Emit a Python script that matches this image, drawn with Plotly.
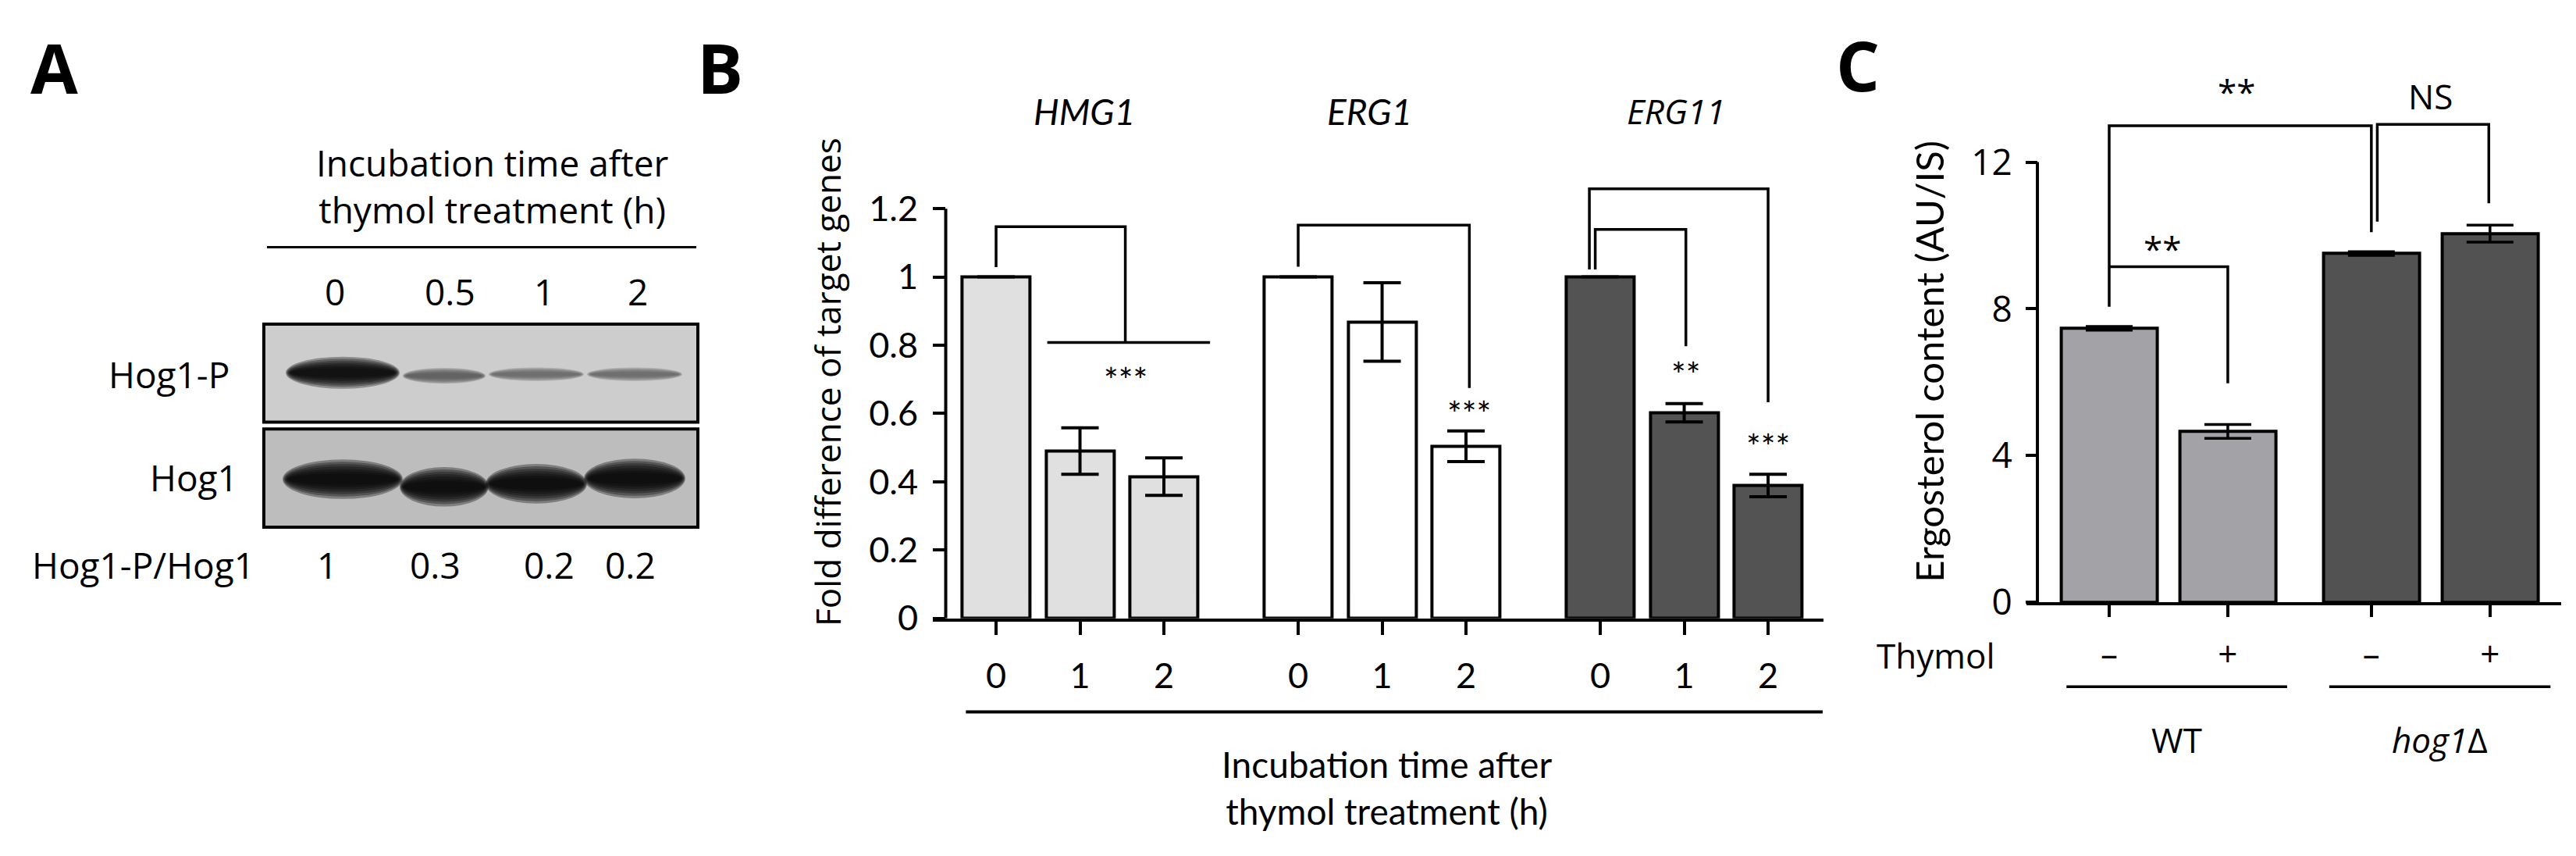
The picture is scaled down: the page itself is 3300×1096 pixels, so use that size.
import plotly.graph_objects as go

W, H = 3300, 1096

# ---------------- Panel A (western blot) ----------------
lanes = ["0", "0.5", "1", "2"]
ratio_labels = ["1", "0.3", "0.2", "0.2"]
hog1p_signal = [1.0, 0.3, 0.2, 0.2]
hog1_signal = [1.0, 1.0, 1.0, 1.0]

# ---------------- Panel B (qPCR) ----------------
genes = ["HMG1", "ERG1", "ERG11"]
times = ["0", "1", "2"]
hmg1 = [1.0, 0.49, 0.415]
hmg1_err = [0.0, 0.068, 0.055]
erg1 = [1.0, 0.868, 0.504]
erg1_err = [0.0, 0.115, 0.045]
erg11 = [1.0, 0.602, 0.389]
erg11_err = [0.0, 0.027, 0.033]
b_yticks = [0, 0.2, 0.4, 0.6, 0.8, 1.0, 1.2]
b_yticktext = ["0", "0.2", "0.4", "0.6", "0.8", "1", "1.2"]

# ---------------- Panel C (ergosterol) ----------------
strains = ["WT", "<i>hog1</i>Δ"]
thymol = ["–", "+"]
ergosterol = [7.47, 4.66, 9.51, 10.05]
ergosterol_err = [0.05, 0.19, 0.05, 0.23]
c_yticks = [0, 4, 8, 12]

SEG = "Open Sans"
CAL = "Lato"


def X(px):
    return px / W


def Y(py):
    return 1 - py / H


fig = go.Figure()
shapes = []
ann = []

# ---------- Panel B bars ----------
b_fills = ["#e0e0e0", "#ffffff", "#535353"]
b_vals = [hmg1, erg1, erg11]
b_errs = [hmg1_err, erg1_err, erg11_err]
GROUP_STEP = 3.6
b_pos_all = []
for g, (vals, errs, col) in enumerate(zip(b_vals, b_errs, b_fills)):
    xs = [g * GROUP_STEP + i for i in range(len(vals))]
    b_pos_all += xs
    fig.add_trace(go.Bar(
        x=xs, y=vals, width=0.81, xaxis="x", yaxis="y",
        marker=dict(color=col, line=dict(color="black", width=4)),
        error_y=dict(type="data", array=errs, visible=True, thickness=4,
                     width=24, color="black"),
        showlegend=False))

# ---------- Panel C bars ----------
c_pos = [0, 1, 2.21, 3.21]
c_fills = ["#a3a3a7", "#a3a3a7", "#525252", "#525252"]
fig.add_trace(go.Bar(
    x=c_pos, y=ergosterol, width=0.81, xaxis="x2", yaxis="y2",
    marker=dict(color=c_fills, line=dict(color="black", width=4)),
    error_y=dict(type="data", array=ergosterol_err, visible=True, thickness=3.5,
                 width=30, color="black"),
    showlegend=False))

# ---------- axes ----------
axis_common = dict(showgrid=False, zeroline=False, ticks="outside", tickwidth=4,
                   tickcolor="black", color="black")
fig.update_layout(
    width=W, height=H, margin=dict(l=0, r=0, t=0, b=0),
    paper_bgcolor="white", plot_bgcolor="rgba(0,0,0,0)",
    bargap=0,
    xaxis=dict(domain=[1187.4 / W, 2328 / W], range=[-0.75, 9.86], anchor="y",
               tickvals=b_pos_all, ticktext=times * 3, ticklen=17, ticklabelstandoff=14,
               showline=True, linewidth=4, linecolor="black",
               tickfont=dict(family=CAL, size=45, color="black"),
               **axis_common),
    yaxis=dict(domain=[1 - 805 / H, 1 - 221.3 / H], range=[0, 1.3], anchor="free",
               position=1203 / W, tickvals=b_yticks, ticktext=b_yticktext,
               ticklen=16, showline=False, ticklabelstandoff=10,
               tickfont=dict(family=CAL, size=45, color="black"),
               **axis_common),
    xaxis2=dict(domain=[2587.6 / W, 3273 / W], range=[-0.70, 3.81], anchor="y2",
                tickvals=c_pos, ticktext=thymol * 2, ticklen=15, ticklabelstandoff=10,
                showline=True, linewidth=4, linecolor="black",
                tickfont=dict(family=SEG, size=44, color="black"),
                **axis_common),
    yaxis2=dict(domain=[1 - 784 / H, 1 - 147.1 / H], range=[0, 13.2], anchor="free",
                position=2602 / W, tickvals=c_yticks, ticklen=15, showline=False,
                ticklabelstandoff=8,
                tickfont=dict(family=SEG, size=46, color="black"),
                **axis_common),
)

# y axis lines ending at the top tick
shapes.append(dict(type="line", xref="x", yref="y", x0=-0.6, x1=-0.6, y0=0, y1=1.2,
                   line=dict(color="black", width=4)))
shapes.append(dict(type="line", xref="x2", yref="y2", x0=-0.605, x1=-0.605, y0=0, y1=12,
                   line=dict(color="black", width=4)))

# ---------- Panel B brackets ----------
br = dict(color="black", width=3.5)
b_paths = [
    "M 0,1.029 V 1.147 H 1.54 V 0.808",
    "M 0.61,0.808 H 2.55",
    "M 3.6,1.03 V 1.152 H 5.64 V 0.675",
    "M 7.07,1.022 V 1.258 H 9.2 V 0.633",
    "M 7.14,1.022 V 1.139 H 8.22 V 0.797",
]
for p in b_paths:
    shapes.append(dict(type="path", xref="x", yref="y", path=p, line=br))
for txt, x, y in [("***", 1.54, 0.70), ("***", 5.64, 0.60), ("**", 8.22, 0.715),
                  ("***", 9.2, 0.505)]:
    ann.append(dict(text=txt, x=x, y=y, xref="x", yref="y",
                    font=dict(family=CAL, size=44, color="black")))

# gene labels
for txt, x, fam, fs in [("HMG1", 1.05, CAL, 46), ("ERG1", 4.45, CAL, 46), ("ERG11", 8.1, SEG, 44)]:
    ann.append(dict(text="<i>%s</i>" % txt, x=x, y=Y(138), xref="x", yref="paper",
                    font=dict(family=fam, size=fs, color="black")))

# long underline and title
shapes.append(dict(type="line", xref="x", yref="paper", x0=-0.36, x1=9.85,
                   y0=Y(928), y1=Y(928), line=dict(color="black", width=4)))
ann.append(dict(text="Incubation time after<br>thymol treatment (h)", x=X(1768), y=Y(1028),
                xref="paper", yref="paper", font=dict(family=CAL, size=46, color="black")))
ann.append(dict(text="Fold difference of target genes", x=X(1052), y=Y(494),
                xref="paper", yref="paper", textangle=-90,
                font=dict(family=SEG, size=44, color="black")))

# ---------- Panel C brackets ----------
c_paths = [
    "M 0,8.06 V 12.99 H 2.21 V 10.09",
    "M 2.26,10.38 V 13.03 H 3.2 V 10.88",
    "M 0,9.15 H 1.0 V 5.97",
]
for p in c_paths:
    shapes.append(dict(type="path", xref="x2", yref="y2", path=p, line=br))
ann.append(dict(text="**", x=1.07, y=Y(112), xref="x2", yref="paper",
                font=dict(family=SEG, size=44, color="black")))
ann.append(dict(text="NS", x=2.71, y=Y(118), xref="x2", yref="paper",
                font=dict(family=SEG, size=44, color="black")))
ann.append(dict(text="**", x=0.45, y=9.65, xref="x2", yref="y2",
                font=dict(family=SEG, size=44, color="black")))

# strain group lines and labels
for (x0, x1), label, xc in [((-0.36, 1.5), strains[0], 0.57), ((1.855, 3.72), strains[1], 2.79)]:
    shapes.append(dict(type="line", xref="x2", yref="paper", x0=x0, x1=x1,
                       y0=Y(895), y1=Y(895), line=dict(color="black", width=3.5)))
    ann.append(dict(text=label, x=xc, y=Y(965), xref="x2", yref="paper",
                    font=dict(family=SEG, size=44, color="black")))
ann.append(dict(text="Thymol", x=X(2472), y=Y(854), xref="paper", yref="paper",
                font=dict(family=SEG, size=44, color="black")))
ann.append(dict(text="Ergosterol content (AU/IS)", x=X(2463), y=Y(467),
                xref="paper", yref="paper", textangle=-90,
                font=dict(family=CAL, size=49, color="black")))

# ---------- Panel A ----------
ann.append(dict(text="Incubation time after<br>thymol treatment (h)", x=X(622), y=Y(236),
                xref="paper", yref="paper", font=dict(family=SEG, size=46, color="black")))
shapes.append(dict(type="line", xref="paper", yref="paper", x0=X(334), x1=X(884),
                   y0=Y(317), y1=Y(317), line=dict(color="black", width=3)))
lane_x = [421, 568, 689, 809]
for lx, lab in zip(lane_x, lanes):
    ann.append(dict(text=lab, x=X(lx), y=Y(375), xref="paper", yref="paper",
                    font=dict(family=SEG, size=46, color="black")))
ratio_x = [411, 549, 695, 799]
for rx, lab in zip(ratio_x, ratio_labels):
    ann.append(dict(text=lab, x=X(rx), y=Y(734), xref="paper", yref="paper",
                    font=dict(family=SEG, size=46, color="black")))
ann.append(dict(text="Hog1-P", x=X(288), y=Y(484), xref="paper", yref="paper",
                xanchor="right", font=dict(family=SEG, size=46, color="black")))
ann.append(dict(text="Hog1", x=X(299), y=Y(619), xref="paper", yref="paper",
                xanchor="right", font=dict(family=SEG, size=46, color="black")))
ann.append(dict(text="Hog1-P/Hog1", x=X(175), y=Y(734), xref="paper", yref="paper",
                font=dict(family=SEG, size=46, color="black")))

# blot boxes
shapes.append(dict(type="rect", xref="paper", yref="paper", x0=X(330), x1=X(886),
                   y0=Y(418), y1=Y(547), fillcolor="#cdcdcd",
                   line=dict(color="black", width=4), layer="below"))
shapes.append(dict(type="rect", xref="paper", yref="paper", x0=X(330), x1=X(886),
                   y0=Y(556), y1=Y(685), fillcolor="#bdbdbd",
                   line=dict(color="black", width=4), layer="below"))

band_x = [(358, 504), (508, 614), (618, 740), (744, 866)]
hog1p_y = [482, 486, 484, 484]
hog1_y = [622, 632, 628, 621]


def add_band(x0, x1, yc, th, s, alpha):
    lvl = int(120 - 115 * s)
    col = "rgba(%d,%d,%d,%.2f)" % (lvl, lvl, lvl, alpha)
    cx = (x0 + x1) / 2
    half = (x1 - x0) / 2
    for k in range(7):
        frac = 1 - k * 0.12
        hw = half * (0.88 + 0.12 * frac)
        hh = th * frac / 2
        shapes.append(dict(type="circle", xref="paper", yref="paper",
                           x0=X(cx - hw), x1=X(cx + hw),
                           y0=Y(yc - hh), y1=Y(yc + hh),
                           fillcolor=col, line=dict(width=0), layer="below"))


for (bx0, bx1), yc, s in zip(band_x, hog1p_y, hog1p_signal):
    add_band(bx0, bx1, yc, 12 + 30 * s, s, 0.22 + 0.1 * s)
for (bx0, bx1), yc, s in zip(band_x, hog1_y, hog1_signal):
    add_band(bx0 - 4, bx1 + 4, yc, 52 * s, s, 0.34)

# panel letters
for txt, px, py in [("A", 61, 80), ("B", 914, 80), ("C", 2372, 77)]:
    ann.append(dict(text="<b>%s</b>" % txt, x=X(px), y=Y(py), xref="paper", yref="paper",
                    font=dict(family=SEG, size=88, color="black")))

for a in ann:
    a.setdefault("xanchor", "center")
    a.setdefault("yanchor", "middle")
    a["showarrow"] = False

fig.update_layout(shapes=shapes, annotations=ann)
fig.write_html("out.html")
